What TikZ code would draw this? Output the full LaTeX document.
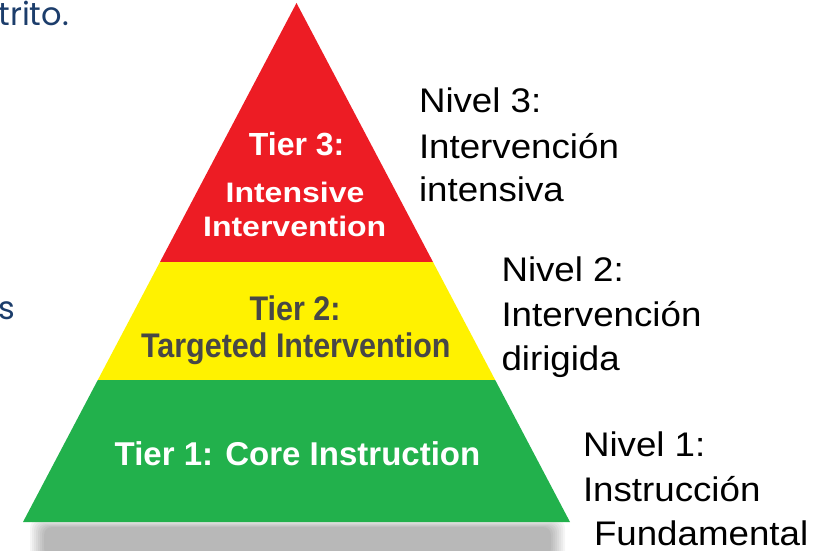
\documentclass[tikz,border=0pt]{standalone}
\usepackage{fontspec}
\setmainfont{Liberation Sans}
\newfontfamily\geofont{Poppins}
\definecolor{tred}{HTML}{ED1C24}
\definecolor{tyellow}{HTML}{FFF200}
\definecolor{tgreen}{HTML}{22B14C}
\definecolor{tgraytext}{HTML}{474747}
\definecolor{slideblue}{HTML}{1C3D6B}
\tikzset{
  txt/.style={inner sep=0pt, outer sep=0pt},
  tierwhite/.style={txt, anchor=base, text=white, font=\bfseries\fontsize{#1}{#1}\selectfont},
  tiergray/.style={txt, anchor=base, text=tgraytext, font=\bfseries\fontsize{#1}{#1}\selectfont},
  nivel/.style={txt, anchor=base west, text=black, yscale=0.93, font=\fontsize{36.7}{40}\selectfont},
  slidetext/.style={txt, text=slideblue, font=\geofont\fontsize{32}{34}\selectfont}
}
\begin{document}
\begin{tikzpicture}[x=1pt,y=-1pt]
\useasboundingbox (0,0) rectangle (817,551);
% shadow
\foreach \i in {0,2,...,14}{
  \fill[black, opacity=0.04, rounded corners=8pt] (30+\i,520+0.5*\i) rectangle (565-\i,562-0.4*\i);
}
% pyramid corners
\coordinate (apex) at (296.5,3);
\coordinate (rl) at (160,262);
\coordinate (rr) at (433,262);
\coordinate (yl) at (97.8,380);
\coordinate (yr) at (495.2,380);
\coordinate (gl) at (23,522);
\coordinate (gr) at (570,522);
\fill[tred] (apex) -- (rr) -- (rl) -- cycle;
\fill[tyellow] (rl) -- (rr) -- (yr) -- (yl) -- cycle;
\fill[tgreen] (yl) -- (yr) -- (gr) -- (gl) -- cycle;
% tier texts
\node[tierwhite=32] (t3a) at (296.7,155) {Tier 3:};
\node[tierwhite=32, yscale=0.88] (t3b) at (295,202.7) {Intensive};
\node[tierwhite=32, yscale=0.88] (t3c) at (294.7,236.7) {Intervention};
\node[tiergray=30.5, yscale=1.12] (t2a) at (295,320.7) {Tier 2:};
\node[tiergray=30.5, yscale=1.12] (t2b) at (295.8,357.3) {Targeted Intervention};
\node[tierwhite=33] (t1) at (297.5,465) {Tier 1: Core Instruction};
% right labels
\node[nivel] (n3a) at (419,112.7) {Nivel 3:};
\node[nivel] (n3b) at (419,158) {Intervención};
\node[nivel] (n3c) at (419,201.7) {intensiva};
\node[nivel] (n2a) at (501.5,281.7) {Nivel 2:};
\node[nivel] (n2b) at (501.5,326.7) {Intervención};
\node[nivel] (n2c) at (501.5,370) {dirigida};
\node[nivel] (n1a) at (583,456.7) {Nivel 1:};
\node[nivel] (n1b) at (583,501.7) {Instrucción};
\node[nivel] (n1c) at (594,545) {Fundamental};
% partial slide text
\node[slidetext, anchor=base west] (s1) at (-1.5,26) {trito.};
\node[slidetext, anchor=base east] (s2) at (15,319) {us};
\end{tikzpicture}
\end{document}
